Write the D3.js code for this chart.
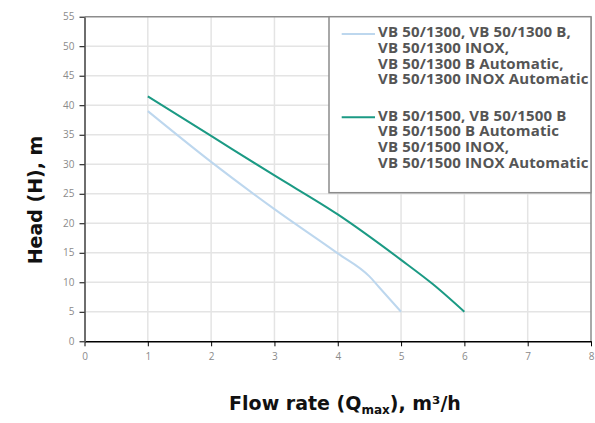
<!DOCTYPE html>
<html><head><meta charset="utf-8">
<script src="https://cdn.jsdelivr.net/npm/d3@7"></script>
<style>
body{margin:0;background:#fff;}
svg{display:block;}
</style></head>
<body>
<svg id="c" width="595" height="423"></svg>
<script>
const xTicks = [0,1,2,3,4,5,6,7,8];
const yTicks = [0,5,10,15,20,25,30,35,40,45,50,55];
const seriesNames = [
  ["VB 50/1300, VB 50/1300 B,","VB 50/1300 INOX,","VB 50/1300 B Automatic,","VB 50/1300 INOX Automatic"],
  ["VB 50/1500, VB 50/1500 B","VB 50/1500 B Automatic","VB 50/1500 INOX,","VB 50/1500 INOX Automatic"]
];
const seriesColors = ["#bdd7ee","#1b9a84"];
const flow1300 = [1,2,3,4,4.5,4.65,5];
const head1300 = [39,30.4,22.4,14.9,11.0,9.2,5];
const flow1500 = [1,2,3,4,5,5.5,6];
const head1500 = [41.5,34.8,28.1,21.5,13.8,9.7,5];

const svg = d3.select("#c");
const L=84.5, R=591, T=16.7, B=341.3;
const x = d3.scaleLinear().domain([0,8]).range([L,R]);
const y = d3.scaleLinear().domain([0,55]).range([B,T]);

// grid
svg.append("g").selectAll("line").data(xTicks.slice(1,-1)).join("line")
  .attr("x1",d=>x(d)).attr("x2",d=>x(d)).attr("y1",T).attr("y2",B)
  .attr("stroke","#e4e4e4").attr("stroke-width",1.5);
svg.append("g").selectAll("line").data(yTicks.slice(1,-1)).join("line")
  .attr("x1",L).attr("x2",R).attr("y1",d=>y(d)).attr("y2",d=>y(d))
  .attr("stroke","#e4e4e4").attr("stroke-width",1.5);

// frame top/right
svg.append("line").attr("x1",L).attr("x2",R).attr("y1",T).attr("y2",T).attr("stroke","#8c8c8c").attr("stroke-width",1.5);
svg.append("line").attr("x1",R).attr("x2",R).attr("y1",T).attr("y2",B).attr("stroke","#8c8c8c").attr("stroke-width",1.5);

// axes
const xAxis = svg.append("g").attr("transform",`translate(0,${B})`)
  .call(d3.axisBottom(x).tickValues(xTicks).tickSize(5).tickSizeOuter(0).tickFormat(d3.format("d")));
xAxis.select(".domain").attr("stroke","#000").attr("stroke-width",1.5);
xAxis.selectAll(".tick line").attr("stroke","#000").attr("stroke-width",1);
xAxis.selectAll("text").attr("fill","#8a8a8a").attr("font-family","Open Sans").attr("font-size",10).attr("dy","1.05em");

const yAxis = svg.append("g").attr("transform",`translate(${L},0)`)
  .call(d3.axisLeft(y).tickValues(yTicks).tickSize(5).tickSizeOuter(0).tickFormat(d3.format("d")));
yAxis.select(".domain").attr("stroke","#6e6e6e").attr("stroke-width",2);
yAxis.selectAll(".tick line").attr("stroke","#000").attr("stroke-width",1);
yAxis.selectAll("text").attr("fill","#8a8a8a").attr("font-family","Open Sans").attr("font-size",10).attr("x",-10);

// lines
const line = d3.line().x(d=>x(d[0])).y(d=>y(d[1])).curve(d3.curveMonotoneX);
const data = [d3.zip(flow1300,head1300), d3.zip(flow1500,head1500)];
svg.append("g").selectAll("path").data(data).join("path")
  .attr("d",line).attr("fill","none")
  .attr("stroke",(d,i)=>seriesColors[i]).attr("stroke-width",2);

// legend
const lg = svg.append("g");
lg.append("rect").attr("x",329).attr("y",T).attr("width",R-329).attr("height",192.7-T)
  .attr("fill","#fff").attr("stroke","#8c8c8c").attr("stroke-width",1.5);
const groupY=[34,117.3];
seriesNames.forEach((lines,i)=>{
  lg.append("line").attr("x1",341.7).attr("x2",375).attr("y1",groupY[i]).attr("y2",groupY[i])
    .attr("stroke",seriesColors[i]).attr("stroke-width",2);
  lines.forEach((t,j)=>{
    lg.append("text").attr("x",378).attr("y",groupY[i]+3.4+j*15.6)
      .attr("font-family","Open Sans").attr("font-weight","bold").attr("font-size",15)
      .attr("letter-spacing",0.15)
      .attr("fill","#555").text(t);
  });
});

// axis titles
svg.append("text").attr("transform","translate(42,200) rotate(-90)").attr("text-anchor","middle")
  .attr("font-family","DejaVu Sans").attr("font-weight","bold").attr("font-size",19).attr("fill","#111")
  .text("Head (H), m");
const xt = svg.append("text").attr("x",345).attr("y",409.5).attr("text-anchor","middle")
  .attr("font-family","DejaVu Sans").attr("font-weight","bold").attr("font-size",19).attr("fill","#111");
xt.append("tspan").text("Flow rate (Q");
xt.append("tspan").attr("font-size",12).attr("dy",4).text("max");
xt.append("tspan").attr("dy",-4).text("), m³/h");
</script>
</body></html>
